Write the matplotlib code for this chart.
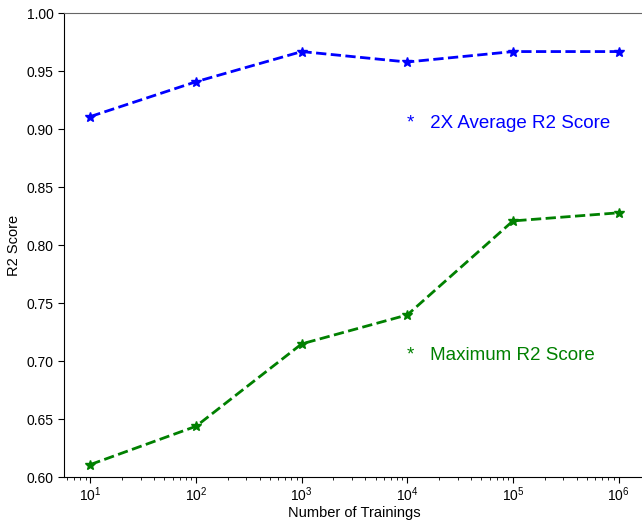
import matplotlib
matplotlib.use('Agg')
import matplotlib.pyplot as plt

# datos
trainings = [1e1, 1e2, 1e3, 1e4, 1e5, 1e6]
avg_2x = [0.911, 0.941, 0.967, 0.958, 0.967, 0.967]
max_r2 = [0.611, 0.644, 0.715, 0.740, 0.821, 0.828]
label_avg = '*   2X Average R2 Score'
label_max = '*   Maximum R2 Score'

plt.rcParams['font.family'] = ['Liberation Sans', 'DejaVu Sans']

fig = plt.figure(figsize=(6.42, 5.21), dpi=100)
ax = fig.add_axes([0.0997, 0.0839, 0.905, 0.8906])

ax.plot(trainings, avg_2x, '--', color='blue', lw=2, marker='*', ms=7)
ax.plot(trainings, max_r2, '--', color='green', lw=2, marker='*', ms=7)
ax.set_xscale('log')
ax.set_ylim(0.60, 1.00)

# textos tipo leyenda dentro del gráfico
ax.text(1e4, 0.905, label_avg, color='blue', fontsize=13.5, va='center')
ax.text(1e4, 0.705, label_max, color='green', fontsize=13.5, va='center')

ax.set_xlabel('Number of Trainings', fontsize=10.5, labelpad=1)
ax.set_ylabel('R2 Score', fontsize=10.5)
ax.tick_params(axis='both', which='major', labelsize=10, length=4, direction='out')
ax.tick_params(axis='x', which='both', pad=2)
ax.tick_params(axis='x', which='minor', length=2)
ax.spines['right'].set_visible(False)
ax.spines['top'].set_color('0.4')

fig.savefig('out.png', dpi=100)
